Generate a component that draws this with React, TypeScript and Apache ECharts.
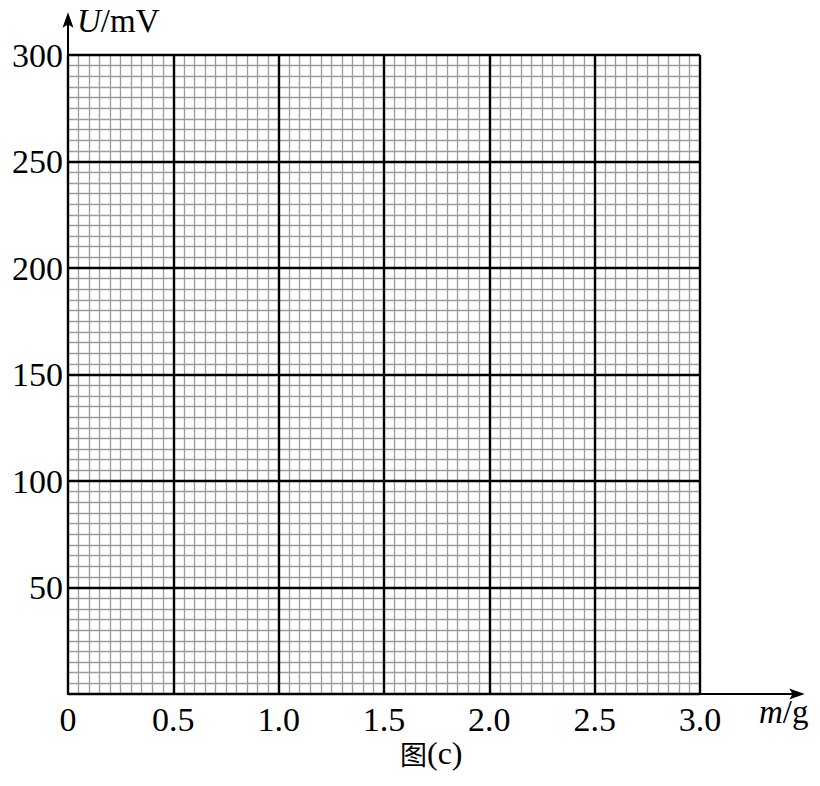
import React, { useEffect, useRef } from "react";
import * as echarts from "echarts";

const xTickLabels = ["0", "0.5", "1.0", "1.5", "2.0", "2.5", "3.0"];
const yTickLabels = ["", "50", "100", "150", "200", "250", "300"];
const xMin = 0;
const xMax = 3.0;
const xStep = 0.5;
const yMin = 0;
const yMax = 300;
const yStep = 50;
const minorSplits = 10;
const yAxisName = ["U", "/mV"];
const xAxisName = ["m", "/g"];
const captionParts = ["图", "(c)"];

export default function App() {
  const ref = useRef<HTMLDivElement>(null);

  useEffect(() => {
    if (!ref.current) return;
    const chart = echarts.init(ref.current, null, { renderer: "svg" });
    const serif = "'Liberation Serif', 'Times New Roman', serif";
    const plot = { left: 68, right: 120, top: 55, bottom: 92 };
    const hidden = {
      axisLine: { show: false },
      axisTick: { show: false },
      axisLabel: { show: false },
      splitLine: { show: false },
    };
    const arrowLine = {
      show: true,
      symbol: ["none", "path://M5,0 L10,14 L5,11 L0,14 Z"],
      symbolSize: [11, 16],
      lineStyle: { color: "#000", width: 2 },
    };

    const option: any = {
      animation: false,
      backgroundColor: "#ffffff",
      grid: [
        { ...plot, show: false },
        { ...plot, show: false },
        { left: 68, right: 23, top: 20, bottom: 92, show: false },
      ],
      xAxis: [
        {
          gridIndex: 0,
          type: "value",
          min: xMin,
          max: xMax,
          interval: xStep,
          z: 1,
          ...hidden,
          minorTick: { show: false, splitNumber: minorSplits },
          minorSplitLine: { show: true, lineStyle: { color: "#9c9c9c", width: 1.3 } },
        },
        {
          gridIndex: 1,
          type: "value",
          min: xMin,
          max: xMax,
          interval: xStep,
          z: 3,
          axisLine: { show: false },
          axisTick: { show: false },
          axisLabel: {
            show: true,
            margin: 8,
            fontSize: 34,
            fontFamily: serif,
            color: "#000",
            formatter: (v: number) => xTickLabels[Math.round((v - xMin) / xStep)] ?? "",
          },
          splitLine: { show: true, lineStyle: { color: "#000", width: 2.4 } },
        },
        {
          gridIndex: 2,
          type: "value",
          min: 0,
          max: 1,
          z: 4,
          axisLine: arrowLine,
          axisTick: { show: false },
          axisLabel: { show: false },
          splitLine: { show: false },
        },
      ],
      yAxis: [
        {
          gridIndex: 0,
          type: "value",
          min: yMin,
          max: yMax,
          interval: yStep,
          z: 1,
          ...hidden,
          minorTick: { show: false, splitNumber: minorSplits },
          minorSplitLine: { show: true, lineStyle: { color: "#9c9c9c", width: 1.3 } },
        },
        {
          gridIndex: 1,
          type: "value",
          min: yMin,
          max: yMax,
          interval: yStep,
          z: 3,
          axisLine: { show: false },
          axisTick: { show: false },
          axisLabel: {
            show: true,
            margin: 5,
            fontSize: 34,
            fontFamily: serif,
            color: "#000",
            formatter: (v: number) => yTickLabels[Math.round((v - yMin) / yStep)] ?? "",
          },
          splitLine: { show: true, lineStyle: { color: "#000", width: 2.4 } },
        },
        {
          gridIndex: 2,
          type: "value",
          min: 0,
          max: 1,
          z: 4,
          axisLine: arrowLine,
          axisTick: { show: false },
          axisLabel: { show: false },
          splitLine: { show: false },
        },
      ],
      graphic: [
        {
          type: "text",
          left: 77,
          top: 4,
          z: 10,
          style: {
            text: `{i|${yAxisName[0]}}{r|${yAxisName[1]}}`,
            rich: {
              i: { fontFamily: serif, fontStyle: "italic", fontSize: 33, fill: "#000" },
              r: { fontFamily: serif, fontSize: 33, fill: "#000" },
            },
          },
        },
        {
          type: "text",
          left: 759,
          top: 695,
          z: 10,
          style: {
            text: `{i|${xAxisName[0]}}{r|${xAxisName[1]}}`,
            rich: {
              i: { fontFamily: serif, fontStyle: "italic", fontSize: 33, fill: "#000" },
              r: { fontFamily: serif, fontSize: 33, fill: "#000" },
            },
          },
        },
        {
          type: "text",
          left: 400,
          top: 737,
          z: 10,
          style: {
            text: `{c|${captionParts[0]}}{r|${captionParts[1]}}`,
            rich: {
              c: { fontFamily: "'Noto Sans CJK SC', sans-serif", fontSize: 27, fill: "#000" },
              r: { fontFamily: serif, fontSize: 32, fill: "#000" },
            },
          },
        },
      ],
      series: [],
    };

    chart.setOption(option);
    return () => chart.dispose();
  }, []);

  return (
    <div
      ref={ref}
      style={{ position: "fixed", left: 0, top: 0, width: 820, height: 786, background: "#fff" }}
    />
  );
}
